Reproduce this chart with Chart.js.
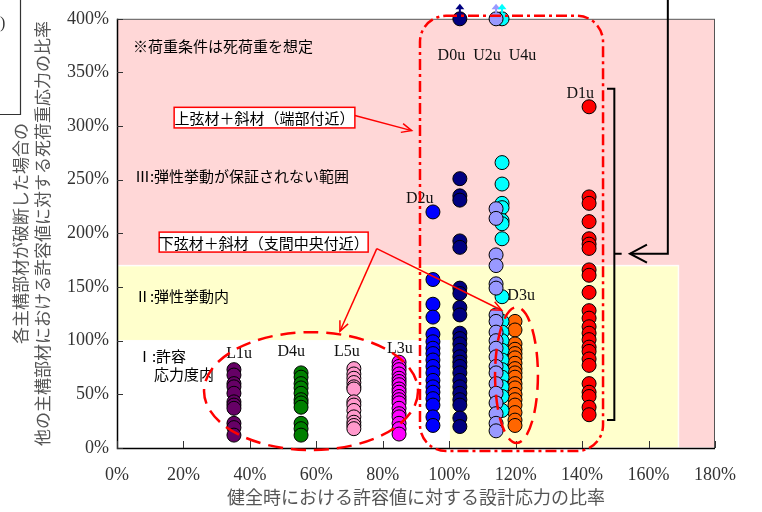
<!DOCTYPE html>
<html>
<head>
<meta charset="utf-8">
<script src="https://cdn.jsdelivr.net/npm/chart.js@4.4.1/dist/chart.umd.min.js"></script>
<style>
  html, body { margin: 0; padding: 0; background: #ffffff; }
  canvas { display: block; }
</style>
</head>
<body>
<canvas id="chart" width="762" height="512"></canvas>
<script>
// ---- axis ranges / tick labels (percent) ----
const xTickValues = [0, 20, 40, 60, 80, 100, 120, 140, 160, 180];
const yTickValues = [0, 50, 100, 150, 200, 250, 300, 350, 400];

// ---- members: design-stress ratio (x) and dead-load stress ratio after a member failure (y) ----
const memberNames = ['L1u', 'D4u', 'L5u', 'L3u', 'D2u', 'D0u', 'U2u', 'U4u', 'D3u', 'D1u'];
const memberDesignRatio = [35.2, 55.4, 71.3, 84.9, 95.1, 103.2, 114.1, 115.9, 119.8, 142.1];

const L1u = [73, 68, 60, 57, 51, 43, 40, 37, 23, 19, 12];
const D4u = [70, 66, 60, 56, 51, 45, 42, 38, 23, 18, 12];
const L5u = [74, 69, 65, 61, 57, 55, 43, 40, 35, 29, 24, 21, 18];
const L3u = [80, 76, 73, 69, 65, 62, 59, 55, 52, 48, 45, 42, 37, 32, 29, 23, 18, 13];
const D2u = [220, 157, 134, 122, 106, 99, 93, 88, 82, 76, 70, 63, 57, 52, 46, 40, 29, 21];
const D0u = [400, 251, 235, 231, 193, 187, 149, 144, 131, 124, 107, 102, 97, 91, 85, 80, 76, 70, 63, 57, 51, 45, 40, 28, 20];
const U2u = [400, 223, 214, 180, 170, 153, 149, 124, 118, 108, 100, 93, 85, 76, 70, 60, 51, 42, 32, 23, 16];
const U4u = [400, 266, 246, 228, 224, 212, 209, 195, 141, 118, 108, 100, 91, 82, 73, 66, 57, 48, 35];
const D3u = [118, 110, 97, 92, 88, 84, 79, 74, 70, 66, 60, 56, 50, 45, 40, 33, 26, 21];
const D1u = [318, 234, 228, 211, 195, 190, 186, 166, 161, 145, 128, 121, 113, 107, 101, 94, 90, 83, 77, 60, 52, 48, 38, 31];

const memberValues = [L1u, D4u, L5u, L3u, D2u, D0u, U2u, U4u, D3u, D1u];
const memberColors = ['#660066', '#008000', '#ff99cc', '#ff00ff', '#0000ff', '#000080', '#9999ff', '#00ffff', '#ff6600', '#ff0000'];

// values at the top of the axis are off-scale and get an upward arrow
const axisTop = 400;

// ---- background ranges (x%, y%) ----
const zones = [
  { x0: 0, x1: 180, y0: 0, y1: 400, color: '#ffd7d7' },   // III
  { x0: 0, x1: 169, y0: 0, y1: 170, color: '#ffffcc' },   // II
  { x0: 0, x1: 100, y0: 0, y1: 100, color: '#ffffff' }    // I
];

const SERIF = '"Liberation Serif", "Times New Roman", serif';
const JP = '"Noto Sans CJK JP", "Noto Sans", sans-serif';

const datasets = memberNames.map((name, i) => ({
  label: name,
  data: memberValues[i].map(v => ({ x: memberDesignRatio[i], y: v })),
  backgroundColor: memberColors[i],
  borderColor: '#000000',
  borderWidth: 1,
  pointRadius: 7,
  pointHoverRadius: 7,
  clip: false
}));

function P(chart, x, y) {
  return [chart.scales.x.getPixelForValue(x), chart.scales.y.getPixelForValue(y)];
}

function arrowHead(ctx, fx, fy, tx, ty, len, spread) {
  const a = Math.atan2(ty - fy, tx - fx);
  ctx.beginPath();
  ctx.moveTo(tx - len * Math.cos(a - spread), ty - len * Math.sin(a - spread));
  ctx.lineTo(tx, ty);
  ctx.lineTo(tx - len * Math.cos(a + spread), ty - len * Math.sin(a + spread));
  ctx.stroke();
}

function arrowLine(ctx, chart, from, to) {
  const [x1, y1] = P(chart, from[0], from[1]);
  const [x2, y2] = P(chart, to[0], to[1]);
  ctx.beginPath();
  ctx.moveTo(x1, y1);
  ctx.lineTo(x2, y2);
  ctx.stroke();
  arrowHead(ctx, x1, y1, x2, y2, 11, 0.42);
}

const backdrop = {
  id: 'backdrop',
  beforeDatasetsDraw(chart) {
    const ctx = chart.ctx;
    const area = chart.chartArea;
    ctx.save();
    zones.forEach(z => {
      const [l, t] = P(chart, z.x0, z.y1);
      const [r, b] = P(chart, z.x1, z.y0);
      ctx.fillStyle = z.color;
      ctx.fillRect(l, t, r - l, b - t);
      ctx.strokeStyle = 'rgba(255,255,255,0.9)';
      ctx.lineWidth = 1.5;
      ctx.strokeRect(l, t, r - l, b - t);
    });
    // frame
    ctx.strokeStyle = '#555555';
    ctx.lineWidth = 1;
    ctx.strokeRect(area.left + 0.5, area.top + 0.5, area.right - area.left - 1, area.bottom - area.top);
    ctx.strokeStyle = '#000000';
    ctx.lineWidth = 1.5;
    ctx.beginPath();
    ctx.moveTo(area.left + 0.5, area.top);
    ctx.lineTo(area.left + 0.5, area.bottom + 0.5);
    ctx.lineTo(area.right, area.bottom + 0.5);
    ctx.stroke();
    // inward tick marks
    ctx.lineWidth = 1;
    ctx.strokeStyle = '#333333';
    ctx.beginPath();
    yTickValues.forEach(v => {
      const y = Math.round(chart.scales.y.getPixelForValue(v)) + 0.5;
      ctx.moveTo(area.left, y);
      ctx.lineTo(area.left + 6, y);
    });
    xTickValues.forEach(v => {
      const x = Math.round(chart.scales.x.getPixelForValue(v)) + 0.5;
      ctx.moveTo(x, area.bottom);
      ctx.lineTo(x, area.bottom - 7);
    });
    ctx.stroke();
    ctx.restore();
  }
};

// ---- notes drawn over the points ----
const seriesLabels = [
  { text: 'D0u  U2u  U4u', x: 96.5, y: 365.5 },
  { text: 'D1u', x: 135.3, y: 330 },
  { text: 'D2u', x: 87, y: 232.5 },
  { text: 'D3u', x: 117.5, y: 141.5 },
  { text: 'L1u', x: 32.9, y: 87.5 },
  { text: 'D4u', x: 48.3, y: 89.3 },
  { text: 'L5u', x: 65.3, y: 89.3 },
  { text: 'L3u', x: 81.3, y: 92 }
];
const zoneNotes = [
  { text: '※荷重条件は死荷重を想定', x: 4.8, y: 374 },
  { text: 'Ⅲ:弾性挙動が保証されない範囲', x: 5.4, y: 253 },
  { text: 'Ⅱ:弾性挙動内', x: 5.4, y: 141 },
  { text: 'Ⅰ:許容', x: 6, y: 85 },
  { text: '応力度内', x: 11.1, y: 69 }
];
const calloutUpper = { text: '上弦材＋斜材（端部付近）', x0: 17.2, x1: 71.6, y0: 298.3, y1: 317.5 };
const calloutLower = { text: '下弦材＋斜材（支間中央付近）', x0: 12.7, x1: 75.6, y0: 182.6, y1: 201.2 };

const overlay = {
  id: 'overlay',
  afterDatasetsDraw(chart) {
    const ctx = chart.ctx;
    ctx.save();

    // off-scale arrows
    chart.data.datasets.forEach((ds, i) => {
      ds.data.forEach(pt => {
        if (pt.y >= axisTop) {
          const [x, y] = P(chart, pt.x, pt.y);
          ctx.strokeStyle = memberColors[i];
          ctx.fillStyle = memberColors[i];
          ctx.lineWidth = 2;
          ctx.beginPath();
          ctx.moveTo(x, y - 6);
          ctx.lineTo(x, y - 10);
          ctx.stroke();
          ctx.beginPath();
          ctx.moveTo(x, y - 15);
          ctx.lineTo(x - 4.5, y - 9.5);
          ctx.lineTo(x + 4.5, y - 9.5);
          ctx.closePath();
          ctx.fill();
        }
      });
    });

    // member labels
    ctx.fillStyle = '#111111';
    ctx.font = '16px ' + SERIF;
    ctx.textAlign = 'left';
    ctx.textBaseline = 'middle';
    seriesLabels.forEach(l => {
      const [x, y] = P(chart, l.x, l.y);
      ctx.fillText(l.text, x, y);
    });

    // range notes
    ctx.font = '15px ' + JP;
    ctx.fillStyle = '#000000';
    zoneNotes.forEach(n => {
      const [x, y] = P(chart, n.x, n.y);
      ctx.fillText(n.text, x, y);
    });

    // group outlines
    ctx.strokeStyle = '#ff0000';
    ctx.lineWidth = 2.5;
    ctx.setLineDash([11, 4, 3, 4]);
    {
      const [l, t] = P(chart, 91.2, 402.8);
      const [r, b] = P(chart, 146.3, -2.8);
      ctx.beginPath();
      ctx.roundRect(l, t, r - l, b - t, 26);
      ctx.stroke();
    }
    ctx.setLineDash([15, 8]);
    [[26.2, 90.6, -1.9, 107.9], [113.8, 126.7, 4.7, 131.2]].forEach(e => {
      const [l, t] = P(chart, e[0], e[3]);
      const [r, b] = P(chart, e[1], e[2]);
      ctx.beginPath();
      ctx.ellipse((l + r) / 2, (t + b) / 2, (r - l) / 2, (b - t) / 2, 0, 0, Math.PI * 2);
      ctx.stroke();
    });
    ctx.setLineDash([]);

    // callout boxes and arrows
    ctx.font = '15px ' + JP;
    ctx.textAlign = 'center';
    [calloutUpper, calloutLower].forEach(c => {
      const [l, t] = P(chart, c.x0, c.y1);
      const [r, b] = P(chart, c.x1, c.y0);
      ctx.fillStyle = '#ffffff';
      ctx.fillRect(l, t, r - l, b - t);
      ctx.strokeStyle = '#ff0000';
      ctx.lineWidth = 1.5;
      ctx.strokeRect(l, t, r - l, b - t);
      ctx.fillStyle = '#000000';
      ctx.fillText(c.text, (l + r) / 2, (t + b) / 2 + 1);
    });
    ctx.strokeStyle = '#ff0000';
    ctx.lineWidth = 1.5;
    arrowLine(ctx, chart, [71.6, 309.8], [88.7, 295.8]);
    arrowLine(ctx, chart, [78.2, 185.8], [67.1, 108.8]);
    arrowLine(ctx, chart, [78.2, 185.8], [115.8, 128.4]);

    // bracket and pointer for the end-zone group
    ctx.strokeStyle = '#000000';
    ctx.lineWidth = 2;
    {
      const [bx, bt] = P(chart, 149.7, 334.8);
      const [, bb] = P(chart, 149.7, 26);
      const [hl] = P(chart, 147.5, 0);
      const [, bm] = P(chart, 0, 181.1);
      const [mr] = P(chart, 151.9, 0);
      ctx.beginPath();
      ctx.moveTo(hl, bt); ctx.lineTo(bx, bt); ctx.lineTo(bx, bb); ctx.lineTo(hl, bb);
      ctx.moveTo(bx, bm); ctx.lineTo(mr, bm);
      ctx.stroke();
      const [vx] = P(chart, 165.8, 0);
      const [tip] = P(chart, 154.4, 0);
      ctx.beginPath();
      ctx.moveTo(vx, 0); ctx.lineTo(vx, bm); ctx.lineTo(tip, bm);
      ctx.stroke();
      ctx.beginPath();
      ctx.moveTo(tip + 17, bm - 9); ctx.lineTo(tip, bm); ctx.lineTo(tip + 17, bm + 9);
      ctx.stroke();
    }

    ctx.restore();
  },
  afterDraw(chart) {
    const ctx = chart.ctx;
    const area = chart.chartArea;
    ctx.save();
    // axis titles
    ctx.fillStyle = '#555555';
    ctx.font = '17px ' + JP;
    ctx.textAlign = 'center';
    ctx.textBaseline = 'middle';
    const cy = (area.top + area.bottom) / 2;
    [['各主構部材が破断した場合の', 21], ['他の主構部材における許容値に対する死荷重応力の比率', 43]].forEach(([t, x]) => {
      ctx.save();
      ctx.translate(x, cy);
      ctx.rotate(-Math.PI / 2);
      ctx.fillText(t, 0, 0);
      ctx.restore();
    });
    ctx.font = '18px ' + JP;
    ctx.fillText('健全時における許容値に対する設計応力の比率', (area.left + area.right) / 2, 497);

    // edge of the neighbouring legend panel
    ctx.strokeStyle = '#333333';
    ctx.lineWidth = 1.2;
    ctx.beginPath();
    ctx.moveTo(20.5, 0); ctx.lineTo(20.5, 114.5); ctx.lineTo(0, 114.5);
    ctx.stroke();
    ctx.fillStyle = '#333333';
    ctx.font = '16px ' + SERIF;
    ctx.textAlign = 'left';
    ctx.fillText(')', 0, 24);
    ctx.restore();
  }
};

new Chart(document.getElementById('chart'), {
  type: 'scatter',
  data: { datasets },
  options: {
    responsive: false,
    animation: false,
    devicePixelRatio: 1,
    layout: { padding: { left: 0, right: 47, top: 18, bottom: 0 } },
    plugins: { legend: { display: false }, tooltip: { enabled: false } },
    scales: {
      x: {
        type: 'linear',
        min: 0, max: 180,
        afterBuildTicks: s => { s.ticks = xTickValues.map(v => ({ value: v })); },
        afterFit: s => { s.height = 64; },
        grid: { display: false, drawTicks: false },
        border: { display: false },
        ticks: { color: '#333333', font: { family: SERIF, size: 18 }, padding: 16, maxRotation: 0, callback: v => v + '%' }
      },
      y: {
        type: 'linear',
        min: 0, max: 400,
        afterBuildTicks: s => { s.ticks = yTickValues.map(v => ({ value: v })); },
        afterFit: s => { s.width = 117; },
        grid: { display: false, drawTicks: false },
        border: { display: false },
        ticks: { color: '#333333', font: { family: SERIF, size: 18 }, padding: 8, callback: v => v + '%' }
      }
    }
  },
  plugins: [backdrop, overlay]
});
</script>
</body>
</html>
